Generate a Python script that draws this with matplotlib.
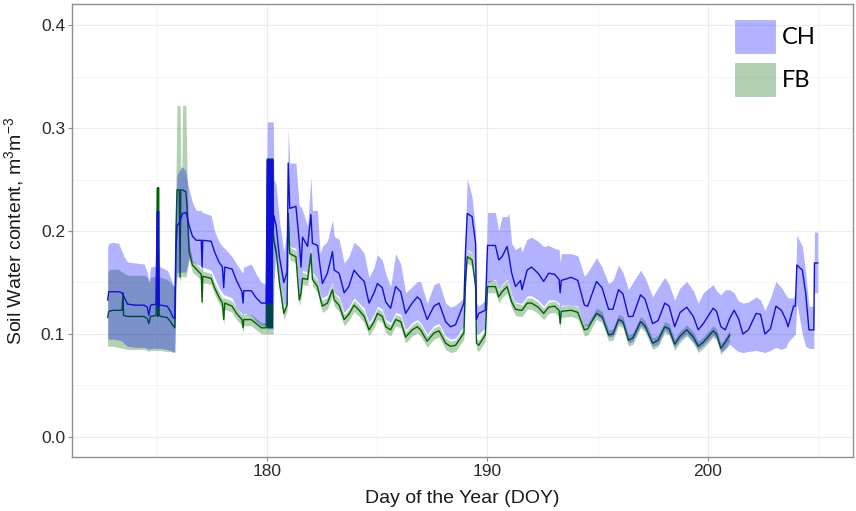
import matplotlib
matplotlib.use("Agg")
import matplotlib.pyplot as plt
from matplotlib.patches import Patch
import numpy as np

nan = float("nan")

# ---------------- data ----------------
doy = [172.75, 172.80, 173.00, 173.25, 173.40, 173.45, 173.47, 173.65, 174.00, 174.40,
       174.55, 174.62, 174.70, 174.95, 175.00, 175.03, 175.06, 175.09, 175.15, 175.45,
       175.60, 175.72, 175.80, 175.85, 175.90, 176.00, 176.04, 176.07, 176.12, 176.15,
       176.30, 176.35, 176.45, 176.60, 176.77, 177.00, 177.04, 177.07, 177.45, 177.60,
       177.80, 177.96, 178.02, 178.07, 178.40, 178.60, 178.85, 178.90, 178.93, 179.27,
       179.50, 179.73, 179.95, 180.00, 180.03, 180.06, 180.09, 180.12, 180.15, 180.18,
       180.21, 180.24, 180.27, 180.30, 180.40, 180.55, 180.75, 180.90, 180.95, 181.02,
       181.30, 181.45, 181.53, 181.60, 181.83, 181.98, 182.05, 182.28, 182.40, 182.50,
       182.73, 182.96, 183.04, 183.26, 183.49, 183.70, 183.94, 184.17, 184.40, 184.62,
       184.85, 185.00, 185.22, 185.38, 185.60, 185.83, 186.06, 186.28, 186.58, 186.81,
       186.96, 187.26, 187.57, 187.80, 188.10, 188.32, 188.55, 188.93, 189.00, 189.08,
       189.30, 189.46, 189.50, 189.60, 189.90, 190.00, 190.36, 190.51, 190.66, 190.89,
       190.97, 191.10, 191.27, 191.50, 191.57, 191.80, 192.00, 192.30, 192.55, 192.78,
       193.05, 193.25, 193.30, 193.35, 193.80, 194.10, 194.40, 194.55, 194.95, 195.20,
       195.50, 195.70, 195.95, 196.15, 196.40, 196.60, 196.95, 197.15, 197.50, 197.75,
       198.05, 198.25, 198.50, 198.75, 199.05, 199.35, 199.57, 199.80, 200.25, 200.40,
       200.60, 200.80, 201.00, 201.20, 201.40, 201.60, 201.85, 202.20, 202.40, 202.60,
       202.85, 203.10, 203.35, 203.55, 203.65, 203.90, 203.98, 204.05, 204.30, 204.45,
       204.60, 204.82, 204.85, 205.00]

ch_mean = [.133, .141, .141, .141, .140, .138, .137, .129, .128, .128,
           .126, .118, .128, .129, .219, .126, .219, .128, .128, .127,
           .122, .116, .115, .180, .205, .208, .210, .212, .215, .217,
           .218, .215, .205, .195, .191, .191, .165, .191, .190, .180,
           .170, .165, .145, .165, .163, .152, .141, .130, .142, .142,
           .135, .130, .130, .269, .130, .269, .130, .269, .130, .269,
           .130, .269, .200, .215, .205, .175, .150, .160, .266, .222,
           .224, .190, .165, .194, .185, .216, .188, .186, .165, .149,
           .159, .180, .162, .159, .140, .146, .162, .156, .151, .130,
           .140, .149, .145, .131, .125, .146, .141, .120, .130, .136,
           .133, .114, .127, .130, .112, .107, .109, .130, .180, .217,
           .214, .188, .114, .120, .123, .186, .186, .172, .175, .185,
           .176, .159, .146, .152, .143, .162, .165, .159, .151, .159,
           .158, .153, .140, .152, .155, .152, .128, .127, .151, .145,
           .124, .124, .143, .139, .117, .117, .138, .134, .110, .113,
           .130, .127, .107, .121, .126, .117, .104, .110, .125, .122,
           .107, .104, .115, .123, .115, .100, .104, .120, .119, .100,
           .105, .127, .123, .114, .107, .127, .127, .167, .162, .140,
           .104, .104, .169, .169]

ch_lo = [.095, .095, .095, .094, .093, .092, .091, .088, .087, .087,
         .086, .085, .086, .086, .086, .086, .086, .086, .086, .085,
         .084, .083, .083, .140, .160, .160, .160, .160, .160, .160,
         .160, .165, .175, .170, .168, .166, .160, .165, .162, .155,
         .145, .140, .138, .138, .135, .125, .120, .118, .120, .118,
         .112, .108, .108, .105, .105, .105, .105, .105, .105, .105,
         .105, .105, .105, .150, .180, .155, .128, .130, .200, .185,
         .183, .140, .145, .162, .160, .185, .160, .153, .140, .135,
         .138, .150, .140, .136, .121, .126, .135, .130, .125, .111,
         .119, .127, .124, .114, .111, .121, .119, .104, .111, .114,
         .111, .100, .108, .110, .098, .095, .096, .108, .150, .182,
         .179, .153, .100, .100, .106, .150, .153, .143, .148, .153,
         .148, .138, .131, .130, .130, .137, .137, .133, .127, .133,
         .133, .130, .115, .128, .128, .127, .108, .108, .118, .114,
         .097, .098, .111, .109, .091, .093, .108, .105, .088, .090,
         .104, .100, .087, .095, .100, .092, .085, .089, .099, .096,
         .083, .085, .090, .086, .083, .082, .083, .084, .083, .082,
         .084, .087, .085, .087, .092, .098, .100, .130, .100, .088,
         .086, .086, .140, .140]

ch_hi = [.185, .188, .189, .188, .180, .178, .176, .170, .169, .168,
         .160, .151, .165, .166, .166, .166, .166, .166, .165, .162,
         .155, .148, .145, .230, .255, .258, .260, .260, .262, .262,
         .258, .250, .240, .228, .220, .220, .218, .218, .215, .200,
         .190, .185, .184, .183, .175, .168, .160, .160, .165, .168,
         .158, .150, .148, .306, .306, .306, .306, .306, .306, .306,
         .306, .306, .306, .250, .245, .210, .180, .200, .300, .266,
         .266, .224, .224, .220, .205, .252, .220, .220, .178, .185,
         .190, .211, .195, .192, .169, .175, .189, .185, .178, .155,
         .165, .177, .172, .158, .146, .178, .168, .140, .146, .151,
         .151, .130, .148, .150, .130, .126, .128, .135, .200, .251,
         .233, .200, .130, .127, .133, .218, .218, .200, .214, .214,
         .217, .188, .182, .185, .180, .192, .194, .190, .185, .186,
         .183, .182, .169, .178, .178, .176, .156, .160, .174, .165,
         .149, .152, .167, .160, .143, .150, .162, .155, .136, .145,
         .155, .148, .133, .145, .151, .142, .130, .140, .148, .142,
         .138, .143, .143, .140, .132, .130, .131, .136, .133, .123,
         .135, .151, .145, .138, .135, .135, .140, .196, .185, .160,
         .127, .127, .199, .199]

fb_mean = [.116, .122, .123, .123, .123, .140, .118, .117, .117, .117,
           .115, .110, .117, .118, .242, .117, .242, .118, .117, .116,
           .112, .108, .106, .200, .240, .240, .155, .240, .240, .240,
           .238, .225, .180, .167, .163, .158, .131, .156, .154, .145,
           .136, .130, .114, .130, .127, .120, .114, .106, .114, .114,
           .110, .106, .106, .270, .106, .270, .106, .270, .106, .270,
           .106, .270, .200, .190, .180, .150, .120, .128, .217, .178,
           .175, .133, .140, .154, .153, .178, .153, .146, .135, .127,
           .130, .143, .133, .128, .114, .119, .128, .123, .117, .104,
           .112, .120, .117, .107, .104, .114, .112, .097, .104, .107,
           .104, .093, .101, .103, .091, .088, .089, .101, .150, .175,
           .172, .146, .091, .089, .099, .146, .146, .136, .141, .146,
           .140, .131, .124, .123, .123, .130, .130, .126, .120, .126,
           .127, .123, .110, .122, .123, .121, .104, .105, .120, .117,
           .099, .100, .114, .112, .094, .096, .112, .108, .091, .094,
           .107, .105, .090, .098, .104, .097, .088, .092, .103, .100,
           .086, .092, .099] + [nan] * 21

fb_lo = [.088, .088, .088, .087, .086, .086, .086, .085, .085, .085,
         .084, .083, .084, .084, .084, .084, .084, .084, .084, .083,
         .083, .082, .082, .150, .156, .156, .150, .156, .156, .156,
         .155, .160, .172, .160, .157, .152, .125, .150, .148, .139,
         .130, .124, .108, .124, .121, .114, .108, .100, .108, .108,
         .104, .100, .100, .100, .100, .100, .100, .100, .100, .100,
         .100, .100, .100, .184, .174, .144, .114, .122, .211, .172,
         .169, .127, .134, .148, .147, .172, .147, .140, .129, .121,
         .124, .137, .127, .122, .108, .113, .122, .117, .111, .098,
         .106, .114, .111, .101, .098, .108, .106, .091, .098, .101,
         .098, .087, .095, .097, .085, .082, .083, .095, .144, .169,
         .166, .140, .085, .083, .093, .140, .140, .130, .135, .140,
         .134, .125, .118, .117, .117, .124, .124, .120, .114, .120,
         .121, .117, .104, .116, .117, .115, .098, .099, .114, .111,
         .093, .094, .108, .106, .088, .090, .106, .102, .085, .088,
         .101, .099, .084, .092, .098, .091, .082, .086, .097, .094,
         .080, .086, .093] + [nan] * 21

fb_hi = [.160, .162, .163, .163, .160, .160, .159, .157, .157, .157,
         .155, .150, .155, .156, .156, .156, .156, .156, .155, .153,
         .150, .147, .145, .250, .322, .322, .322, .262, .262, .322,
         .322, .262, .188, .172, .168, .163, .163, .161, .159, .150,
         .141, .135, .135, .135, .132, .125, .119, .119, .119, .119,
         .115, .111, .111, .270, .270, .270, .270, .270, .270, .270,
         .270, .270, .270, .196, .186, .156, .125, .134, .222, .184,
         .181, .139, .146, .160, .158, .184, .158, .152, .140, .133,
         .136, .149, .139, .134, .119, .124, .133, .128, .122, .109,
         .117, .125, .122, .112, .109, .119, .117, .102, .109, .112,
         .109, .098, .106, .108, .096, .093, .094, .106, .156, .181,
         .178, .152, .096, .094, .104, .152, .152, .142, .147, .152,
         .146, .137, .130, .129, .128, .135, .135, .131, .125, .131,
         .132, .128, .115, .127, .128, .126, .109, .110, .125, .122,
         .104, .105, .119, .117, .099, .101, .117, .113, .096, .099,
         .112, .110, .095, .103, .109, .102, .093, .097, .108, .105,
         .091, .097, .104] + [nan] * 21

series_labels = ["CH", "FB"]
x_label = "Day of the Year (DOY)"
y_label = r"Soil Water content, m$^3$m$^{-3}$"
x_ticks = [180, 190, 200]
y_ticks = [0.0, 0.1, 0.2, 0.3, 0.4]

# ---------------- figure ----------------
plt.rcParams["font.family"] = ["Liberation Sans", "DejaVu Sans"]
plt.rcParams["mathtext.fontset"] = "custom"
plt.rcParams["mathtext.rm"] = "Liberation Sans"
plt.rcParams["mathtext.it"] = "Liberation Sans"

fig = plt.figure(figsize=(8.56, 5.11), dpi=100)
ax = fig.add_axes([72 / 856, 1 - 457 / 511, 781 / 856, 453 / 511])

x = np.array(doy)
blue = "#0000ff"
green = "#006400"

ax.fill_between(x, np.array(fb_lo), np.array(fb_hi), color=green, alpha=0.3, lw=0, zorder=2)
ax.plot(x, np.array(fb_mean), color=green, lw=1.0, zorder=3)
ax.fill_between(x, np.array(ch_lo), np.array(ch_hi), color=blue, alpha=0.3, lw=0, zorder=4)
ax.plot(x, np.array(ch_mean), color="#1010d8", lw=1.0, zorder=5)

ax.set_xlim(171.13, 206.6)
ax.set_ylim(-0.0195, 0.4205)
ax.set_xticks(x_ticks)
ax.set_yticks(y_ticks)
ax.set_xticklabels([str(t) for t in x_ticks])
ax.set_yticklabels([f"{t:.1f}" for t in y_ticks])
ax.set_xticks([175, 185, 195, 205], minor=True)
ax.set_yticks([0.05, 0.15, 0.25, 0.35], minor=True)

ax.grid(True, which="major", color="#ececec", lw=0.8, zorder=0)
ax.grid(True, which="minor", color="#f5f5f5", lw=0.6, zorder=0)
ax.set_axisbelow(True)

for sp in ax.spines.values():
    sp.set_color("#8f8f8f")
    sp.set_linewidth(1.0)

ax.tick_params(which="major", length=3, width=0.8, color="#8f8f8f",
               labelsize=12.5, labelcolor="#2a2a2a", pad=2)
ax.tick_params(which="minor", length=0)

ax.set_xlabel(x_label, fontsize=14, color="#1a1a1a")
ax.set_ylabel(y_label, fontsize=14, color="#1a1a1a")
ax.xaxis.set_label_coords(0.5, -0.072)
ax.yaxis.set_label_coords(-0.059, 0.5)

handles = [Patch(facecolor=blue, alpha=0.3, edgecolor="#6060d0", lw=0.6),
           Patch(facecolor=green, alpha=0.3, edgecolor="#4a8a4a", lw=0.6)]
fig.legend(handles, series_labels, loc="upper left",
           bbox_to_anchor=(735 / 856, 1 - 20 / 511), frameon=False,
           prop={"family": ["Lato", "DejaVu Sans"], "size": 17},
           handlelength=1.7, handleheight=1.75, labelspacing=0.45,
           handletextpad=0.3, borderpad=0, borderaxespad=0)

fig.savefig("out.png", dpi=100)
